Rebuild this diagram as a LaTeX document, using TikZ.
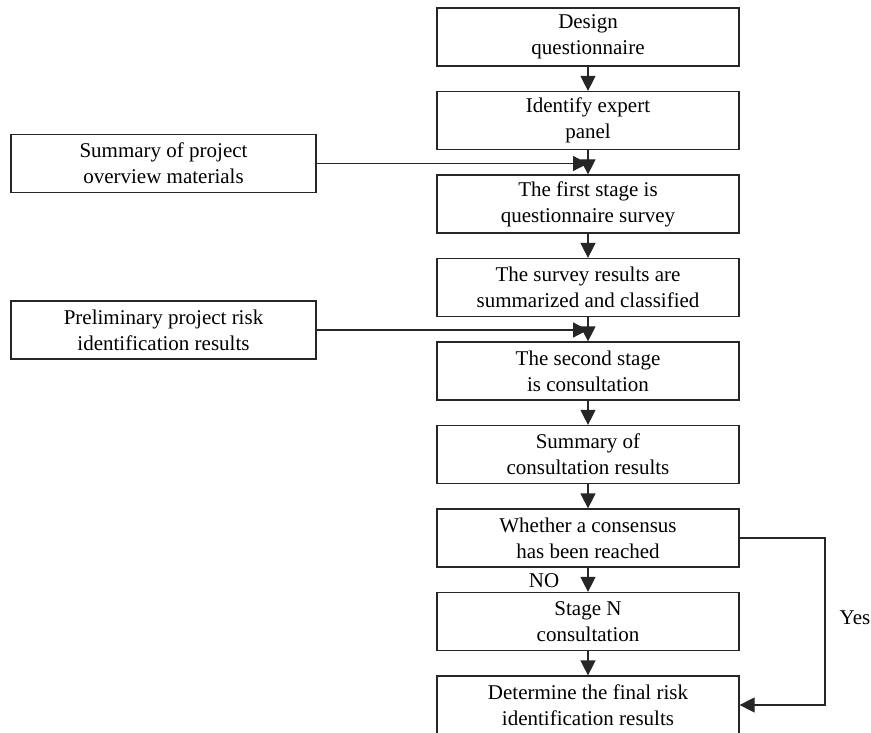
\documentclass[tikz,border=0pt]{standalone}
\usepackage{fontspec}
\setmainfont{Liberation Serif}
\usetikzlibrary{arrows.meta}

\begin{document}
\begin{tikzpicture}[x=1pt, y=-1pt,
    box/.style={draw=black!85, line width=1.2pt, minimum width=302pt, minimum height=58pt,
      align=center, inner sep=2pt, font=\fontsize{21}{26}\selectfont},
    side/.style={box, minimum width=305pt},
    flow/.style={draw=black!85, line width=1.2pt, -{Triangle[length=15pt,width=15pt]}},
    lbl/.style={font=\fontsize{21}{26}\selectfont}]
    \useasboundingbox (0,0) rectangle (871,733);

    \node[box] (A) at (588, 37) {Design\\questionnaire};
    \node[box] (B) at (588, 120.5) {Identify expert\\panel};
    \node[box] (C) at (588, 204) {The first stage is\\questionnaire survey};
    \node[box] (D) at (588, 287.5) {The survey results are\\summarized and classified};
    \node[box] (E) at (588, 371) {The second stage\\is consultation};
    \node[box] (F) at (588, 454.5) {Summary of\\consultation results};
    \node[box] (G) at (588, 538) {Whether a consensus\\has been reached};
    \node[box] (H) at (588, 621.5) {Stage N\\consultation};
    \node[box] (I) at (588, 705) {Determine the final risk\\identification results};

    \node[side] (P) at (163.5, 163.5) {Summary of project\\overview materials};
    \node[side] (Q) at (163.5, 330) {Preliminary project risk\\identification results};

    \coordinate (J) at (825, 538);
    \coordinate (K) at (825, 705);

    \draw[flow] (A) -- (B);
    \draw[flow] (B) -- (C);
    \draw[flow] (C) -- (D);
    \draw[flow] (D) -- (E);
    \draw[flow] (E) -- (F);
    \draw[flow] (F) -- (G);
    \draw[flow] (G) -- (H);
    \draw[flow] (H) -- (I);
    \draw[flow] (P.east) -- (P.east -| C.north);
    \draw[flow] (Q.east) -- (Q.east -| E.north);
    \draw[flow] (G.east) -- (J) -- (K) -- (I.east);

    \node[lbl] (no) at (544, 581) {NO};
    \node[lbl] (yes) at (855, 618) {Yes};
  \end{tikzpicture}
\end{document}
